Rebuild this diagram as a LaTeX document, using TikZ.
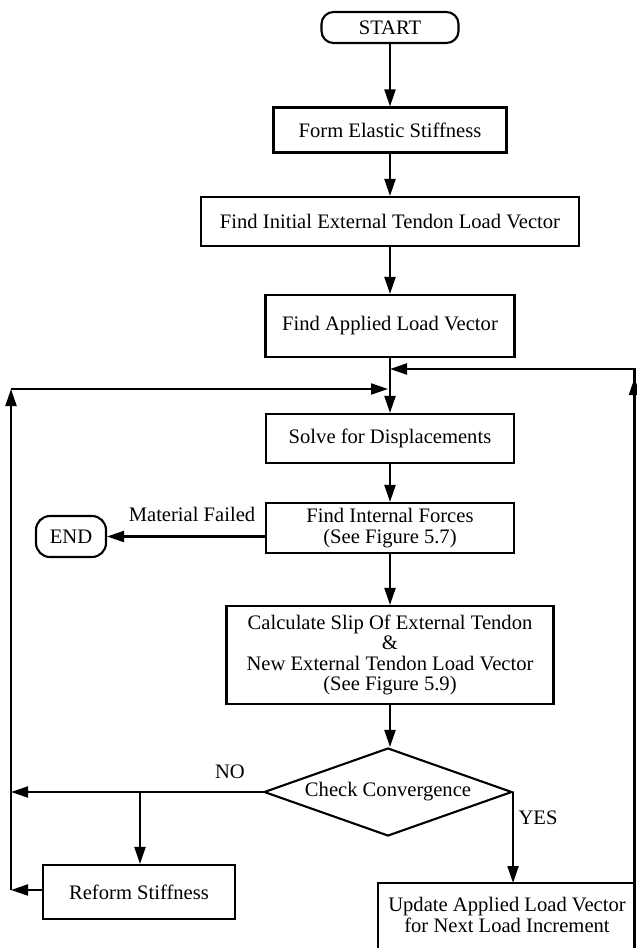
\documentclass[tikz,border=0pt]{standalone}
\usepackage{fontspec}
\setmainfont{Liberation Serif}
\usetikzlibrary{arrows.meta,shapes.geometric}
\begin{document}
\begin{tikzpicture}[x=1pt,y=-1pt,
  font=\fontsize{20.6}{20.5}\selectfont,
  line width=2.1pt,
  box/.style={draw, rectangle, inner sep=0pt, align=center},
  term/.style={draw, rectangle, rounded corners=12pt, inner sep=0pt},
  dec/.style={draw, diamond, aspect=2.8, inner sep=0pt},
  arr/.style={-{Triangle[length=17pt,width=11pt]}},
  lbl/.style={inner sep=0pt}]
\useasboundingbox (0,0) rectangle (637,948);
% main column
\node[term, minimum width=137pt, minimum height=31pt] (start) at (390,27.5) {START};
\node[box, minimum width=233pt, minimum height=45pt] (form) at (390,130) {Form Elastic Stiffness};
\node[box, minimum width=378pt, minimum height=49pt] (init) at (390,221.5) {Find Initial External Tendon Load Vector};
\node[box, minimum width=249pt, minimum height=62pt] (appl) at (390,326) {Find Applied Load Vector};
\node[box, minimum width=248pt, minimum height=49pt] (solve) at (390,438.5) {Solve for Displacements};
\node[box, minimum width=248pt, minimum height=50pt] (intf) at (390,528) {Find Internal Forces\\(See Figure 5.7)};
\node[term, minimum width=70pt, minimum height=41pt, rounded corners=14pt] (endn) at (71,536.5) {END};
\node[box, minimum width=327pt, minimum height=98pt] (calc) at (390,655) {Calculate Slip Of External Tendon\\\&\\New External Tendon Load Vector\\(See Figure 5.9)};
\node[dec, minimum width=248pt, minimum height=88pt] (conv) at (388,792) {Check Convergence};
\node[box, minimum width=192pt, minimum height=54pt] (reform) at (139,892) {Reform Stiffness};
\node[lbl, align=center] (upd) at (507,915) {Update Applied Load Vector\\for Next Load Increment};
% labels
\node[lbl] (mf) at (192,514) {Material Failed};
\node[lbl] (no) at (230,772) {NO};
\node[lbl] (yes) at (538,818) {YES};
% coordinates
\coordinate (utl) at (378,883);
\coordinate (ubl) at (378,948);
\coordinate (utr) at (634.5,883);
\coordinate (ubr) at (634.5,948);
\coordinate (j2) at (390,369);
\coordinate (rt) at (634.5,378);
\coordinate (j1) at (388,389);
\coordinate (lt) at (11,389);
\coordinate (lb) at (11,890);
\coordinate (nb) at (140,792);
% open update box
\draw (ubl) -- (utl) -- (utr) -- (ubr);
% main flow
\draw[arr] (start) -- (form);
\draw[arr] (form) -- (init);
\draw[arr] (init) -- (appl);
\draw[arr] (appl) -- (solve);
\draw[arr] (solve) -- (intf);
\draw[arr] (intf) -- (calc);
\draw[arr] (calc.south) -- (calc.south |- conv.north);
\draw[arr] (intf.west |- endn.east) -- (endn.east);
% NO branch
\draw[arr] (conv.west) -- (conv.west -| lt);
\draw[arr] (nb) -- (nb |- reform.north);
\draw[arr] (reform.west |- lb) -- (lb);
\draw[arr] (lb) -- (lt);
\draw[arr] (lt) -- (j1);
% YES branch
\draw[arr] (conv.east) -- (conv.east |- utl);
\draw[arr] (utr) -- (rt);
\draw[arr] (utr) |- (j2);
\end{tikzpicture}
\end{document}
